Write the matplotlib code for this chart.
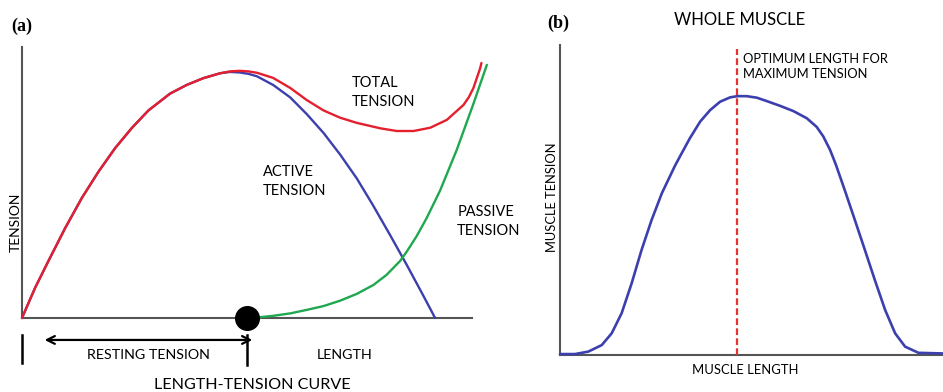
import numpy as np
import matplotlib.pyplot as plt

plt.rcParams['font.family'] = ['Lato', 'DejaVu Sans']

# (a) length-tension curve (length 0-100, tension 0-100)
total_len = [0, 2.9, 5.8, 9.6, 13.3, 17.0, 20.7, 24.4, 28.1, 32.9, 36.6, 40.3, 44.0, 46.2,
             48.4, 50.3, 52.2, 55.8, 59.6, 63.3, 67.0, 70.7, 74.4, 79.6, 83.3, 87.0,
             90.7, 94.4, 98.1, 99.3, 100.3, 101.8, 102.1]
total_ten = [0, 11.1, 20.8, 33.2, 44.3, 54.0, 62.7, 70.1, 76.6, 82.8, 86.0, 88.5, 90.3, 91.0,
             91.2, 91.0, 90.5, 88.6, 84.9, 80.4, 76.6, 73.9, 72.0, 70.0, 69.0, 69.0,
             70.2, 73.1, 78.6, 81.5, 84.8, 92.1, 94.1]

active_len = [0, 2.9, 5.8, 9.6, 13.3, 17.0, 20.7, 24.4, 28.1, 32.9, 36.6, 40.3, 44.0, 46.2,
              48.4, 50.3, 52.2, 55.8, 59.6, 63.3, 67.0, 70.7, 74.4, 78.0, 81.8, 85.5,
              89.1, 91.8]
active_ten = [0, 11.1, 20.8, 33.2, 44.3, 54.0, 62.7, 70.1, 76.6, 82.8, 86.0, 88.5, 90.3, 90.8,
              90.6, 90.1, 89.2, 86.0, 81.4, 75.2, 68.3, 60.3, 51.5, 41.6, 30.6, 19.6,
              8.5, 0]

passive_len = [50.0, 52.9, 55.8, 59.6, 63.3, 67.0, 70.7, 74.4, 78.1, 81.0, 84.0, 85.5,
               87.7, 89.9, 92.9, 96.6, 100.2, 103.3]
passive_ten = [0, 0.3, 0.8, 1.7, 3.0, 4.4, 6.4, 8.9, 12.2, 15.9, 21.0, 24.5,
               30.2, 36.8, 47.0, 62.0, 78.5, 93.4]

resting_len = 50.0

# (b) whole muscle
muscle_len = [0, 3.9, 7.4, 10.9, 13.5, 16.1, 18.7, 21.3, 23.9, 26.6, 30.0, 31.3, 33.9,
              36.6, 39.2, 41.8, 44.4, 46.3, 48.7, 51.4, 54.0, 57.4, 60.9, 64.4, 67.0,
              68.7, 70.5, 72.0, 74.4, 77.0, 79.6, 82.2, 84.9, 87.5, 90.1, 93.6, 100]
muscle_ten = [0.3, 0.3, 1.1, 3.2, 7.0, 13.5, 23.1, 33.9, 43.5, 52.2, 61.0, 64.0, 69.9,
              75.3, 79.0, 81.7, 83.1, 83.5, 83.5, 83.0, 81.9, 80.4, 78.7, 76.4, 73.6,
              70.6, 66.2, 61.5, 53.0, 43.5, 33.9, 24.2, 14.5, 7.0, 2.7, 0.7, 0.5]
optimum_len = 46.1

W, H = 943, 392
fig = plt.figure(figsize=(W / 100, H / 100), dpi=100)

red = '#e5202e'
blue = '#3c3fae'
green = '#1fa84f'
grey = '#555555'
line_kw = dict(solid_joinstyle='round', solid_capstyle='round', clip_on=False)

# ---- panel (a)
ax = fig.add_axes([22 / W, (H - 318) / H, 450 / W, 271 / H])
ax.set_xlim(0, 100)
ax.set_ylim(0, 100)
ax.axis('off')

ax.plot([0, 0], [0, 100], color=grey, lw=1.5, clip_on=False)
ax.plot([0, 100], [0, 0], color=grey, lw=1.5, clip_on=False)
ax.plot(active_len, active_ten, color=blue, lw=1.7, **line_kw)
ax.plot(passive_len, passive_ten, color=green, lw=1.7, **line_kw)
ax.plot(total_len, total_ten, color=red, lw=1.7, **line_kw)
ax.plot([resting_len], [0], 'o', color='black', ms=17, clip_on=False, zorder=5)

ax.annotate('', xy=(4.4, -8.1), xytext=(51.8, -8.1),
            arrowprops=dict(arrowstyle='<->', color='black', lw=1.6,
                            mutation_scale=14), annotation_clip=False)
ax.plot([0, 0], [-6.3, -16.6], color='black', lw=1.8, clip_on=False)
ax.plot([resting_len, resting_len], [-6.3, -17.3], color='black', lw=1.8, clip_on=False)

ax.text(28.2, -13.7, 'RESTING TENSION', ha='center', va='center', fontsize=10.3)
ax.text(71.8, -13.7, 'LENGTH', ha='center', va='center', fontsize=10.3)
ax.text(51.1, -24.9, 'LENGTH-TENSION CURVE', ha='center', va='center', fontsize=11.6)
ax.text(-1.3, 35.4, 'TENSION', rotation=90, ha='center', va='center', fontsize=10)
ax.text(73.3, 83.2, 'TOTAL\nTENSION', ha='left', va='center', fontsize=10.5, linespacing=1.45)
ax.text(53.6, 50.2, 'ACTIVE\nTENSION', ha='left', va='center', fontsize=10.5, linespacing=1.45)
ax.text(96.7, 35.6, 'PASSIVE\nTENSION', ha='left', va='center', fontsize=10.5, linespacing=1.45)
ax.text(-2.4, 107.7, '(a)', ha='left', va='center', fontsize=13, fontweight='bold',
        family='Liberation Serif')

# ---- panel (b)
bx = fig.add_axes([560 / W, (H - 355) / H, 383 / W, 310 / H])
bx.set_xlim(0, 100)
bx.set_ylim(0, 100)
bx.axis('off')

bx.plot([0, 0], [0, 100], color=grey, lw=1.5, clip_on=False)
bx.plot([0, 100], [0, 0], color=grey, lw=1.5, clip_on=False)
bx.plot(muscle_len, muscle_ten, color=blue, lw=1.9, **line_kw)
bx.plot([optimum_len, optimum_len], [0, 98.7], color='#e8322f', lw=1.6,
        ls=(0, (3, 1.5)), clip_on=False)

bx.text(47.0, 108, 'WHOLE MUSCLE', ha='center', va='center', fontsize=12)
bx.text(47.8, 93.1, 'OPTIMUM LENGTH FOR\nMAXIMUM TENSION', ha='left', va='center',
        fontsize=9.3, linespacing=1.35)
bx.text(-2.1, 51, 'MUSCLE TENSION', rotation=90, ha='center', va='center', fontsize=9.3)
bx.text(48.3, -4.8, 'MUSCLE LENGTH', ha='center', va='center', fontsize=9.4)
bx.text(-3.4, 107, '(b)', ha='left', va='center', fontsize=13, fontweight='bold',
        family='Liberation Serif')

fig.savefig('out.png', dpi=100)
